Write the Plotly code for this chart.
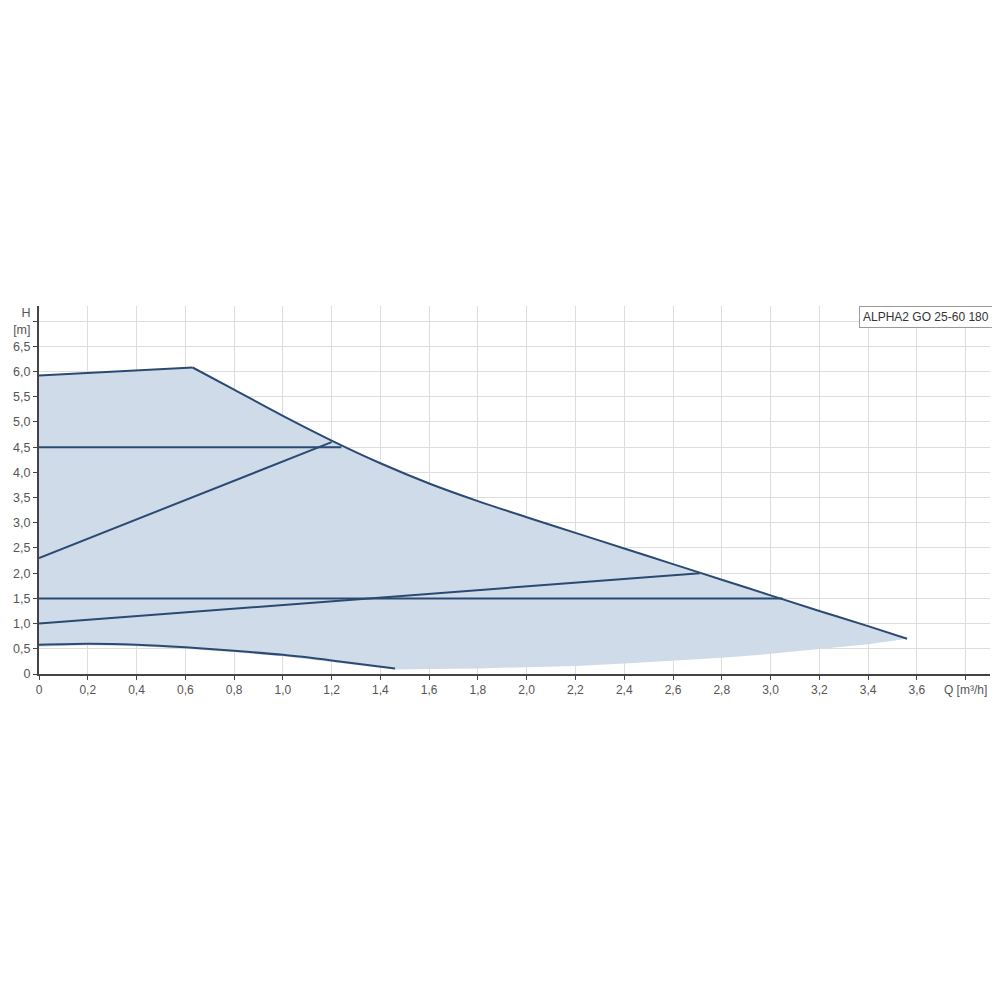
import plotly.graph_objects as go

# ---- data ----
max_q = [0.0, 0.2, 0.4, 0.63, 0.8, 1.0, 1.2, 1.4, 1.6, 1.8, 2.0, 2.2, 2.4, 2.6, 2.8, 3.0, 3.2, 3.4, 3.56]
max_h = [5.92, 5.97, 6.02, 6.08, 5.64, 5.12, 4.63, 4.18, 3.78, 3.43, 3.11, 2.80, 2.49, 2.18, 1.87, 1.56, 1.25, 0.95, 0.70]

min_q = [0.0, 0.2, 0.4, 0.6, 0.8, 1.0, 1.2, 1.46]
min_h = [0.58, 0.60, 0.58, 0.53, 0.46, 0.38, 0.27, 0.11]

low_q = [3.56, 3.4, 3.2, 3.0, 2.8, 2.6, 2.4, 2.2, 2.0, 1.8, 1.6, 1.46, 1.2, 1.0, 0.8, 0.6, 0.4, 0.2, 0.0]
low_h = [0.70, 0.59, 0.49, 0.40, 0.32, 0.26, 0.21, 0.16, 0.13, 0.11, 0.10, 0.09, 0.24, 0.35, 0.43, 0.50, 0.55, 0.57, 0.54]

cp_high_q = [0.0, 1.24]
cp_high_h = [4.5, 4.5]
pp_high_q = [0.0, 1.20]
pp_high_h = [2.3, 4.6]
cp_low_q = [0.0, 3.05]
cp_low_h = [1.5, 1.5]
pp_low_q = [0.0, 2.71]
pp_low_h = [1.0, 2.0]

x_tickvals = [0, 0.2, 0.4, 0.6, 0.8, 1.0, 1.2, 1.4, 1.6, 1.8, 2.0, 2.2, 2.4, 2.6, 2.8, 3.0, 3.2, 3.4, 3.6, 3.8]
x_ticktext = ["0", "0,2", "0,4", "0,6", "0,8", "1,0", "1,2", "1,4", "1,6", "1,8", "2,0", "2,2", "2,4",
              "2,6", "2,8", "3,0", "3,2", "3,4", "3,6", "Q [m³/h]"]
y_tickvals = [0, 0.5, 1.0, 1.5, 2.0, 2.5, 3.0, 3.5, 4.0, 4.5, 5.0, 5.5, 6.0, 6.5, 7.0]
y_ticktext = ["0", "0,5", "1,0", "1,5", "2,0", "2,5", "3,0", "3,5", "4,0", "4,5", "5,0", "5,5", "6,0", "6,5", "H<br>[m]"]

title_text = "ALPHA2 GO 25-60 180"

LINE = "#2b4a72"
FILL = "#cfdbe8"

fig = go.Figure()

# shaded operating area
fig.add_trace(go.Scatter(
    x=max_q + low_q, y=max_h + low_h, mode="lines", fill="toself",
    fillcolor=FILL, line=dict(width=0, color=FILL), hoverinfo="skip", showlegend=False))

def add_line(q, h, shape="linear", smoothing=1.0):
    fig.add_trace(go.Scatter(x=q, y=h, mode="lines",
                             line=dict(color=LINE, width=2, shape=shape, smoothing=smoothing),
                             showlegend=False))

add_line(max_q[:4], max_h[:4])
add_line(max_q[3:], max_h[3:], "spline", 1.0)
add_line(min_q, min_h, "spline", 0.8)
add_line(cp_high_q, cp_high_h)
add_line(pp_high_q, pp_high_h)
add_line(cp_low_q, cp_low_h)
add_line(pp_low_q, pp_low_h)

fig.add_annotation(
    text=title_text, xref="paper", yref="paper", x=1.003, y=1.0, xanchor="right", yanchor="top",
    showarrow=False, font=dict(family="Liberation Sans, Arial", size=12, color="#333333"),
    bordercolor="#9a9a9a", borderwidth=1, borderpad=3, bgcolor="white")

# page body has an 8px default margin; figure sized/offset to land the plot where the reference has it
fig.update_layout(
    width=984, height=984,
    paper_bgcolor="white", plot_bgcolor="white",
    margin=dict(l=31, r=2, t=298, b=318, autoexpand=False),
    font=dict(family="Liberation Sans, Arial", size=12, color="#555555"),
)
fig.update_xaxes(
    range=[0, 3.9], tickvals=x_tickvals, ticktext=x_ticktext, showgrid=True, gridcolor="#dddddd",
    gridwidth=1, zeroline=False, showline=True, linecolor="#444444", linewidth=2,
    ticks="outside", ticklen=4, tickcolor="#444444", tickfont=dict(size=12, color="#555555"))
fig.update_yaxes(
    range=[0, 7.3], tickvals=y_tickvals, ticktext=y_ticktext, showgrid=True, gridcolor="#dddddd",
    gridwidth=1, zeroline=False, showline=True, linecolor="#444444", linewidth=2,
    ticks="outside", ticklen=4, tickcolor="#444444", tickfont=dict(size=12.5, color="#555555"))

fig.write_html("out.html")
